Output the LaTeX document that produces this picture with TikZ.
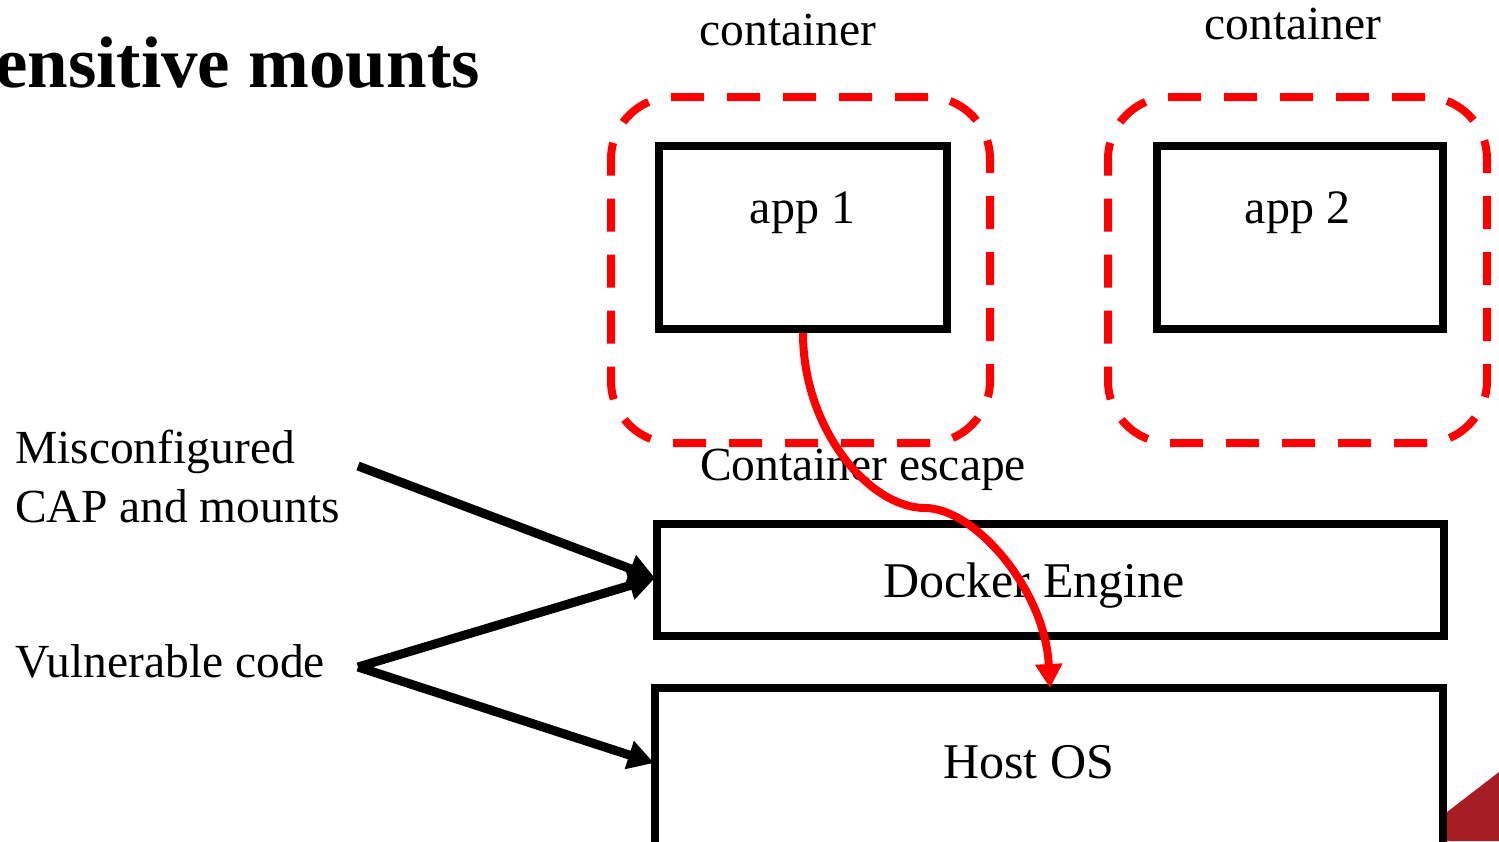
\documentclass[tikz,border=0pt]{standalone}
\usepackage{fontspec}
\setmainfont{Liberation Serif}
\usetikzlibrary{arrows.meta}
\definecolor{dashred}{RGB}{255,0,0}
\definecolor{cornerred}{RGB}{166,30,36}
\begin{document}
\begin{tikzpicture}[x=1pt,y=-1pt,
  lbl/.style={inner sep=0pt, font=\fontsize{47.5}{59}\selectfont},
  boxlbl/.style={inner sep=0pt, font=\fontsize{50}{60}\selectfont, anchor=base},
  ctr/.style={draw=dashred, line width=8pt, dash pattern=on 33pt off 23pt,
    rounded corners=62pt, inner sep=0pt, minimum width=379pt, minimum height=346pt},
  blackbox/.style={draw=black, line width=8pt, fill=white, inner sep=0pt},
  blackarrow/.style={line width=9pt, -{Triangle[length=26pt,width=28pt]}},
  escarrow/.style={draw=dashred, line width=8pt, -{Triangle[length=24pt,width=26pt]}}
]
\clip (0,0) rectangle (1499,841);
\fill[white] (0,0) rectangle (1499,841);

% title
\node[inner sep=0pt, anchor=base east, font=\bfseries\fontsize{73}{80}\selectfont] (title) at (480,87) {ensitive mounts};

% container labels
\node[lbl, anchor=base] (c1lbl) at (788,45) {container};
\node[lbl, anchor=base] (c2lbl) at (1293,39) {container};

% containers
\node[ctr] (c1) at (800.5,270) {};
\node[ctr] (c2) at (1297.5,270) {};

% app boxes
\node[blackbox, minimum width=288pt, minimum height=183pt] (app1) at (803,237.5) {};
\node[blackbox, minimum width=286pt, minimum height=183pt] (app2) at (1300,237.5) {};
\node[boxlbl, font=\fontsize{48}{58}\selectfont] (app1lbl) at (802.5,223) {app 1};
\node[boxlbl, font=\fontsize{48}{58}\selectfont] (app2lbl) at (1297.5,223) {app 2};

% docker engine and host
\node[blackbox, minimum width=787pt, minimum height=112pt] (dock) at (1050.5,579.5) {};
\node[boxlbl] (docklbl) at (1034,597) {Docker Engine};
\node[blackbox, minimum width=788pt, minimum height=212pt] (host) at (1049,794) {};
\node[boxlbl] (hostlbl) at (1028.5,778) {Host OS};

% corner triangle
\fill[cornerred] (1447,841) -- (1447,812) -- (1499,772) -- (1499,841) -- cycle;

% escape label
\node[lbl, anchor=base west] (esclbl) at (700,480) {Container escape};

% left labels
\node[lbl, anchor=base west, align=left] (mis) at (15,522) {Misconfigured\\CAP and mounts};
\node[lbl, anchor=base west] (vul) at (15,677) {Vulnerable code};

\coordinate (misout) at (358,466);
\coordinate (vulout) at (358,667);
\coordinate (dockin) at (655,578);
\coordinate (hostin) at (654,763);
\coordinate (hosttop) at (1050,688);

\draw[blackarrow] (misout) -- (dockin);
\draw[blackarrow] (vulout) -- (dockin);
\draw[blackarrow] (vulout) -- (hostin);

% escape arrow
\draw[escarrow] (app1.south) .. controls (803,430) and (870,508) .. (925,508)
  .. controls (975,508) and (1045,590) .. (hosttop);
\end{tikzpicture}
\end{document}
